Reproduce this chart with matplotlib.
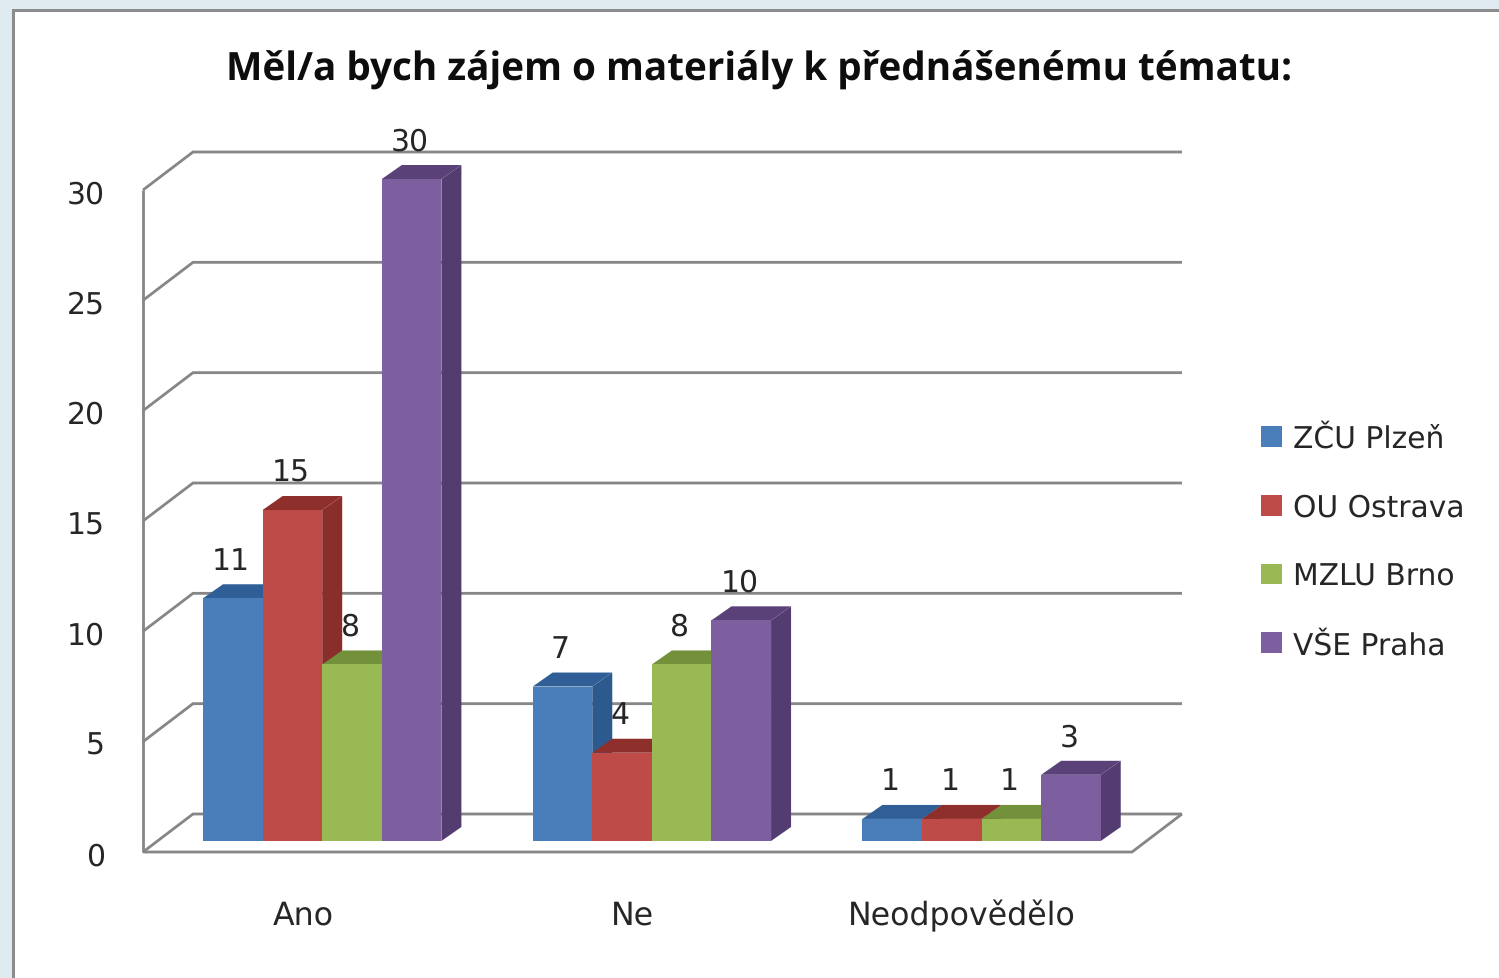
#!/usr/bin/env python3
"""Grouped pseudo-3D bar chart: interest in materials for the lecture topic."""

import matplotlib
matplotlib.use("Agg")
import matplotlib.pyplot as plt
from matplotlib.patches import Patch, Polygon, Rectangle
from matplotlib.transforms import ScaledTranslation

# ── Data ─────────────────────────────────────────────────────────────
categories = ["Ano", "Ne", "Neodpovědělo"]
series_names = ["ZČU Plzeň", "OU Ostrava", "MZLU Brno", "VŠE Praha"]
zcu_plzen = [11, 7, 1]
ou_ostrava = [15, 4, 1]
mzlu_brno = [8, 8, 1]
vse_praha = [30, 10, 3]
y_ticks = [0, 5, 10, 15, 20, 25, 30]
title = "Měl/a bych zájem o materiály k přednášenému tématu:"

# ── Style ────────────────────────────────────────────────────────────
W, H = 1499, 979
DPI = 100
PX = 72 / DPI   # one pixel in points

COLORS = [
    ("#4a7ebb", "#2f5f96", "#2c5a8f"),  # front, top, side
    ("#be4b48", "#8f2f2c", "#8a2e2b"),
    ("#98b954", "#73903a", "#6f8c38"),
    ("#7d5fa0", "#5a4278", "#533c70"),
]
GRID = "#868686"
TEXT = "#262626"

plt.rcParams["font.family"] = ["DejaVu Sans"]
plt.rcParams["text.hinting"] = "no_hinting"

fig = plt.figure(figsize=(W / DPI, H / DPI), dpi=DPI, facecolor="#dfeaf1")

# slide panel running off the right and bottom edges
fig.add_artist(Rectangle((13 / W, -0.05), 1.1, 1.05 - 11 / H,
                         transform=fig.transFigure, facecolor="white",
                         edgecolor="#8c8c8c", linewidth=3 * PX, zorder=-1))

# axes = front plane of the chart box
AX_L, AX_R, AX_T, AX_B = 143, 1132, 191, 853
ax = fig.add_axes([AX_L / W, 1 - AX_B / H, (AX_R - AX_L) / W, (AX_B - AX_T) / H])
ax.patch.set_visible(False)
ax.set_xlim(0, len(categories))
ax.set_ylim(0, 30)
px_x = len(categories) / (AX_R - AX_L)
px_y = 30 / (AX_B - AX_T)

# depth of the box and of one bar, in data units
WALL_DX, WALL_DY = 50 * px_x, 38 * px_y
BAR_DX, BAR_DY = 20 * px_x, 14 * px_y
BASE_Y = 11 * px_y
BAR_W = 59.6 * px_x
GROUP_PAD = 60 * px_x

for s in ax.spines.values():
    s.set_visible(False)


def poly(points, color, z=2):
    ax.add_patch(Polygon(points, closed=True, facecolor=color, edgecolor="none",
                         clip_on=False, zorder=z))


def gridline(xs, ys, z=1):
    ax.plot(xs, ys, color=GRID, lw=2.8 * PX, clip_on=False, zorder=z,
            solid_capstyle="butt", solid_joinstyle="miter")


# ── Walls ────────────────────────────────────────────────────────────
gridline([0, 0], [0, 30])
for t in y_ticks:
    gridline([0, WALL_DX, 3 + WALL_DX], [t, t + WALL_DY, t + WALL_DY])
gridline([0, 3, 3 + WALL_DX], [0, 0, WALL_DY])

# ── Bars ─────────────────────────────────────────────────────────────
all_series = [zcu_plzen, ou_ostrava, mzlu_brno, vse_praha]
for i in range(len(categories)):
    for j, values in enumerate(all_series):
        v = values[i]
        front, top, side = COLORS[j]
        x0 = i + GROUP_PAD + j * BAR_W
        x1 = x0 + BAR_W
        y0 = BASE_Y
        y1 = BASE_Y + v
        poly([(x1, y0), (x1 + BAR_DX, y0 + BAR_DY), (x1 + BAR_DX, y1 + BAR_DY), (x1, y1)], side)
        poly([(x0, y1), (x0 + BAR_DX, y1 + BAR_DY), (x1 + BAR_DX, y1 + BAR_DY), (x1, y1)], top)
        poly([(x0, y0), (x1, y0), (x1, y1), (x0, y1)], front)
        ax.annotate(str(v), xy=((x0 + x1) / 2, y1), xytext=(-2 * PX, 38 * PX),
                    textcoords="offset points", ha="center", va="center",
                    fontsize=21.5, color=TEXT, zorder=5, annotation_clip=False)

# ── Axes text ────────────────────────────────────────────────────────
ax.set_yticks(y_ticks)
ax.set_xticks([i + 0.485 for i in range(len(categories))])
ax.set_xticklabels(categories)
ax.tick_params(axis="y", length=0, pad=38 * PX, labelsize=21.5, labelcolor=TEXT)
ax.tick_params(axis="x", length=0, pad=47 * PX, labelsize=22.8, labelcolor=TEXT)
down = ScaledTranslation(0, -1 * PX / 72, fig.dpi_scale_trans)
for lab in ax.get_yticklabels():
    lab.set_transform(lab.get_transform() + down)

fig.text(759 / W, 1 - 70 / H, title, ha="center", va="center", fontsize=27.8,
         fontweight="bold", family="Open Sans", color="#0d0d0d")

handles = [Patch(facecolor=c[0], edgecolor="none") for c in COLORS]
ax.legend(handles, series_names, loc="upper left", frameon=False,
          bbox_to_anchor=(1249 / W, 1 - 413 / H), bbox_transform=fig.transFigure,
          fontsize=21.4, labelcolor=TEXT, handlelength=0.72, handleheight=0.7,
          handletextpad=0.35, labelspacing=1.34, borderpad=0.4, borderaxespad=0)

fig.savefig("out.png", dpi=DPI, facecolor=fig.get_facecolor())
